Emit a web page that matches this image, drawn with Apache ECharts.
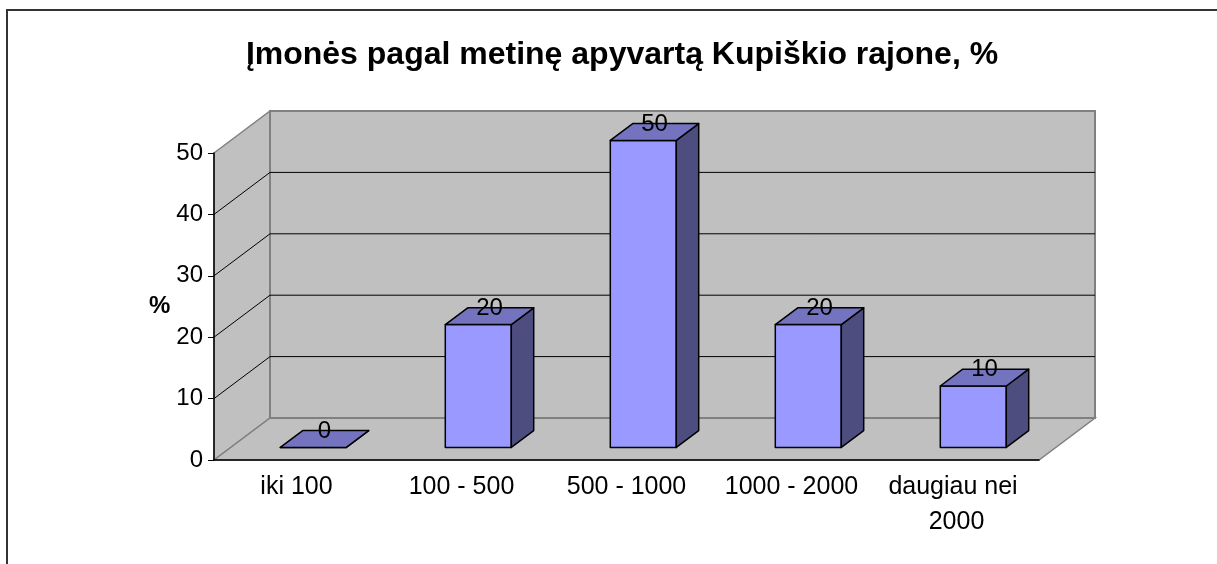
<!DOCTYPE html>
<html>
<head>
<meta charset="utf-8">
<script src="https://cdn.jsdelivr.net/npm/echarts@6/dist/echarts.min.js"></script>
<style>
html, body { margin: 0; padding: 0; background: #fff; }
#chart { width: 1217px; height: 564px; }
</style>
</head>
<body>
<div id="chart"></div>
<script>
const categories = ['iki 100', '100 - 500', '500 - 1000', '1000 - 2000', 'daugiau nei 2000'];
const shares = [0, 20, 50, 20, 10];
const yTicks = [0, 10, 20, 30, 40, 50];

// pseudo-3D depth of the plot box (back wall offset, px)
const depthX = 56, depthY = -42;
const font = 'Arial, "Liberation Sans", sans-serif';

const wallFill = '#c0c0c0';
const wallEdge = '#808080';

function renderWalls(params, api) {
    const cs = params.coordSys;
    const x0 = cs.x, x1 = cs.x + cs.width;
    const yb = api.coord([0, 0])[1];
    const yt = api.coord([0, yTicks[yTicks.length - 1]])[1];
    const children = [
        {
            type: 'polygon',
            shape: { points: [[x0, yt], [x0 + depthX, yt + depthY], [x0 + depthX, yb + depthY], [x0, yb]] },
            style: { fill: wallFill, stroke: wallEdge, lineWidth: 1.5 }
        },
        {
            type: 'polygon',
            shape: { points: [[x0, yb], [x0 + depthX, yb + depthY], [x1 + depthX, yb + depthY], [x1, yb]] },
            style: { fill: wallFill, stroke: wallEdge, lineWidth: 1.5 }
        },
        {
            type: 'rect',
            shape: { x: x0 + depthX, y: yt + depthY, width: x1 - x0, height: yb - yt },
            style: { fill: wallFill, stroke: wallEdge, lineWidth: 2 }
        }
    ];
    yTicks.forEach(function (v) {
        if (v === 0 || v === yTicks[yTicks.length - 1]) return;
        const y = api.coord([0, v])[1];
        children.push({
            type: 'polyline',
            shape: { points: [[x0, y], [x0 + depthX, y + depthY], [x1 + depthX, y + depthY]] },
            style: { fill: null, stroke: '#000', lineWidth: 1 }
        });
    });
    return { type: 'group', children: children };
}

function renderBar(params, api) {
    const idx = api.value(0), val = api.value(1);
    const base = api.coord([idx, 0]);
    const top = api.coord([idx, val]);
    const band = api.size([1, 0])[0];
    const w = band * 0.4;
    const fx = depthX * 0.3, fy = depthY * 0.3;
    const bx = depthX * 0.4, by = depthY * 0.4;
    const left = base[0] - w / 2 + fx, right = left + w;
    const yb = base[1] + fy, yt = top[1] + fy;
    const edge = { stroke: '#000', lineWidth: 1.5, lineJoin: 'round' };
    return {
        type: 'group',
        children: [
            {
                type: 'rect',
                shape: { x: left, y: yt, width: w, height: yb - yt },
                style: Object.assign({ fill: '#9999ff' }, edge)
            },
            {
                type: 'polygon',
                shape: { points: [[right, yt], [right + bx, yt + by], [right + bx, yb + by], [right, yb]] },
                style: Object.assign({ fill: '#4d4d80' }, edge)
            },
            {
                type: 'polygon',
                shape: { points: [[left, yt], [left + bx, yt + by], [right + bx, yt + by], [right, yt]] },
                style: Object.assign({ fill: '#7373c0' }, edge)
            },
            {
                type: 'text',
                style: {
                    text: String(val),
                    x: (left + right) / 2 + bx / 2,
                    y: yt + by / 2 + 4,
                    align: 'center',
                    verticalAlign: 'bottom',
                    font: '24px ' + font,
                    fill: '#000'
                }
            }
        ]
    };
}

const chart = echarts.init(document.getElementById('chart'));
chart.setOption({
    animation: false,
    backgroundColor: '#fff',
    title: {
        text: 'Įmonės pagal metinę apyvartą Kupiškio rajone, %',
        left: 617,
        top: 34,
        textAlign: 'center',
        textStyle: { fontFamily: font, fontSize: 32, fontWeight: 'bold', color: '#000' }
    },
    graphic: [{
        type: 'rect',
        shape: { x: 7, y: 10, width: 1240, height: 600 },
        style: { fill: null, stroke: '#333', lineWidth: 2 },
        silent: true
    }],
    grid: { left: 214, top: 153, width: 825, height: 307 },
    xAxis: {
        type: 'category',
        data: categories,
        z: 5,
        axisLine: { lineStyle: { color: '#000', width: 1.5 } },
        axisTick: { length: 6, lineStyle: { color: '#000' } },
        axisLabel: {
            color: '#000', fontFamily: font, fontSize: 25, margin: 10,
            lineHeight: 35, width: 165, overflow: 'break', interval: 0
        },
        splitLine: { show: false }
    },
    yAxis: {
        type: 'value',
        min: 0,
        max: 50,
        interval: 10,
        z: 5,
        name: '%',
        nameLocation: 'middle',
        nameRotate: 0,
        nameGap: 41,
        nameTextStyle: { color: '#000', fontFamily: font, fontSize: 24, fontWeight: 'bold', padding: [0, 0, 22, 0] },
        axisLine: { show: true, lineStyle: { color: '#000', width: 1.5 } },
        axisTick: { show: true, length: 6, lineStyle: { color: '#000' } },
        axisLabel: { color: '#000', fontFamily: font, fontSize: 24, margin: 11 },
        splitLine: { show: false }
    },
    series: [
        {
            type: 'custom',
            z: 1,
            silent: true,
            clip: false,
            renderItem: renderWalls,
            data: [[0, 0]],
            encode: { x: 0, y: 1 }
        },
        {
            type: 'custom',
            z: 3,
            clip: false,
            renderItem: renderBar,
            data: shares.map(function (v, i) { return [i, v]; }),
            encode: { x: 0, y: 1 }
        }
    ]
});
</script>
</body>
</html>
